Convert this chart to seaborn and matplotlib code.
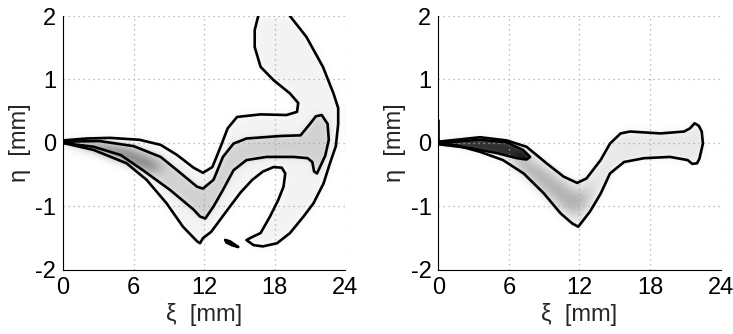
import numpy as np
import matplotlib
matplotlib.use("Agg")
import matplotlib.pyplot as plt
from matplotlib.path import Path
from matplotlib.colors import LinearSegmentedColormap
import seaborn as sns
import pandas as pd

# ---------------- data (xi [mm], eta [mm]) ----------------
# Left panel: outer contour
L_outer_xi = [0, 2, 4, 6.5, 8.3, 9.7, 11.1, 11.9, 12.7, 13.4, 14.0, 14.8, 16.8, 19.0, 19.9,
              20.0, 19.3, 17.9, 16.8, 16.3, 16.3, 16.6, 16.6, 19.3, 19.3, 20.7, 22.1, 23.0,
              23.4, 23.4, 23.2, 22.7, 22.15, 21.3, 20.45, 19.3, 18.2, 17.0, 16.2, 15.6, 16.0,
              16.8, 17.6, 18.3, 18.75, 18.9, 18.6, 17.9, 17.0, 16.1, 15.1, 14.2, 13.4, 12.6,
              11.9, 11.65, 11.4, 10.2, 8.8, 7.1, 5.4, 2.6, 0]
L_outer_eta = [0.04, 0.07, 0.08, 0.05, -0.03, -0.19, -0.39, -0.47, -0.38, -0.06, 0.23, 0.41, 0.45,
               0.44, 0.49, 0.63, 0.78, 0.99, 1.2, 1.51, 1.78, 2.0, 2.3, 2.3, 2.0, 1.67, 1.2, 0.78,
               0.55, 0.3, -0.05, -0.32, -0.64, -0.95, -1.16, -1.42, -1.58, -1.63, -1.61, -1.53,
               -1.49, -1.42, -1.16, -0.9, -0.69, -0.48, -0.39, -0.38, -0.45, -0.58, -0.78, -1.0,
               -1.2, -1.4, -1.5, -1.58, -1.55, -1.32, -0.95, -0.58, -0.32, -0.11, 0.0]
# Left panel: inner contour
L_inner_xi = [0, 3.1, 6.0, 8.3, 9.7, 11.4, 11.9, 12.8, 13.6, 14.5, 15.6, 18.5, 20.2, 21.0,
              21.5, 22.0, 22.5, 22.6, 22.3, 21.6, 21.35, 21.2, 20.8, 19.6, 17.3, 15.6, 14.5,
              13.6, 12.8, 12.1, 11.65, 11.1, 9.1, 6.8, 4.9, 2.6, 0]
L_inner_eta = [0.02, 0.03, -0.05, -0.22, -0.43, -0.69, -0.72, -0.58, -0.22, -0.01, 0.07, 0.11,
               0.12, 0.3, 0.42, 0.44, 0.3, 0.05, -0.2, -0.48, -0.45, -0.3, -0.24, -0.22, -0.22,
               -0.27, -0.43, -0.74, -1.0, -1.19, -1.16, -1.05, -0.74, -0.43, -0.19, -0.06, 0.0]
# Left panel: small island
L_island_xi = [13.8, 14.2, 14.9, 14.35, 13.9, 13.8]
L_island_eta = [-1.53, -1.55, -1.64, -1.61, -1.57, -1.53]
# Left panel: dark core of the density (no contour line)
L_core_xi = [0.3, 3, 5.5, 7.5, 8.5, 7.5, 5, 2.5, 0.3]
L_core_eta = [0.0, -0.02, -0.1, -0.25, -0.42, -0.45, -0.3, -0.12, -0.02]

# Right panel: outer contour
R_outer_xi = [0, 3.55, 5.8, 7.5, 9.2, 10.65, 11.8, 12.6, 13.8, 14.6, 15.5, 16.3, 18.9, 20.9,
              21.4, 21.8, 22.15, 22.4, 22.5, 22.2, 22.0, 21.6, 21.2, 19.7, 17.5, 15.8, 14.6,
              13.8, 12.9, 11.9, 11.4, 10.4, 8.95, 7.25, 5.5, 3.55, 1.6, 0]
R_outer_eta = [0.02, 0.09, 0.04, -0.06, -0.32, -0.53, -0.63, -0.56, -0.27, -0.01, 0.15, 0.18,
               0.15, 0.18, 0.23, 0.31, 0.27, 0.18, -0.01, -0.25, -0.32, -0.33, -0.27, -0.22,
               -0.24, -0.30, -0.48, -0.8, -1.08, -1.32, -1.27, -1.11, -0.79, -0.48, -0.27,
               -0.14, -0.04, 0.0]
# Right panel: inner (dark) contour
R_inner_xi = [0, 3.55, 5.8, 7.2, 7.8, 7.5, 6.7, 5.0, 2.7, 0]
R_inner_eta = [0.0, 0.05, 0.01, -0.11, -0.22, -0.26, -0.24, -0.16, -0.08, -0.02]
# Right panel: short vertical piece at the origin
R_stub_xi = [0, 0]
R_stub_eta = [0.0, 0.36]
# Right panel: medium-gray ridge of the density (no contour line)
R_ridge_xi = [6.5, 8.5, 10.5, 11.9, 12.7, 13.4, 12.6, 11.8, 10.5, 8.5, 6.5]
R_ridge_eta = [-0.15, -0.35, -0.62, -0.8, -0.75, -0.5, -0.95, -1.15, -1.0, -0.68, -0.32]

x_ticks = [0, 6, 12, 18, 24]
y_ticks = [-2, -1, 0, 1, 2]

# ---------------- figure ----------------
sns.set_theme(style="white")
plt.rcParams["font.family"] = ["Liberation Sans", "DejaVu Sans"]

fig = plt.figure(figsize=(7.33, 3.34), dpi=100)
axL = fig.add_axes([0.086, 0.192, 0.385, 0.760])
axR = fig.add_axes([0.598, 0.192, 0.385, 0.760])

cmap = LinearSegmentedColormap.from_list("wk", ["white", "black"])
gx = np.linspace(0, 24, 481)
gy = np.linspace(-2, 2, 241)
GX, GY = np.meshgrid(gx, gy)
pts = np.column_stack([GX.ravel(), GY.ravel()])


def inside(xs, ys):
    return Path(np.column_stack([xs, ys])).contains_points(pts).reshape(GX.shape).astype(float)


def blur(f, sx, sy):
    def kern(s):
        r = int(3 * s) + 1
        k = np.exp(-0.5 * (np.arange(-r, r + 1) / s) ** 2)
        return k / k.sum()
    kx, ky = kern(sx), kern(sy)
    f = np.apply_along_axis(lambda v: np.convolve(v, kx, mode="same"), 1, f)
    f = np.apply_along_axis(lambda v: np.convolve(v, ky, mode="same"), 0, f)
    return f


fieldL = (blur(0.05 * inside(L_outer_xi, L_outer_eta), 8, 5)
          + blur(0.13 * inside(L_inner_xi, L_inner_eta), 6, 3)
          + blur(0.30 * inside(L_core_xi, L_core_eta), 10, 4))
fieldR = (blur(0.09 * inside(R_outer_xi, R_outer_eta), 6, 4)
          + blur(0.22 * inside(R_ridge_xi, R_ridge_eta), 10, 5)
          + blur(0.72 * inside(R_inner_xi, R_inner_eta), 2, 1))

panels = [
    (axL, fieldL, [(L_outer_xi, L_outer_eta), (L_inner_xi, L_inner_eta),
                   (L_island_xi, L_island_eta)]),
    (axR, fieldR, [(R_outer_xi, R_outer_eta), (R_inner_xi, R_inner_eta),
                   (R_stub_xi, R_stub_eta)]),
]

for ax, field, lines in panels:
    ax.imshow(field, extent=[0, 24, -2, 2], origin="lower", cmap=cmap, vmin=0, vmax=1,
              aspect="auto", interpolation="bilinear", zorder=0)
    for xs, ys in lines:
        df = pd.DataFrame({"xi": xs, "eta": ys})
        sns.lineplot(data=df, x="xi", y="eta", sort=False, estimator=None, color="black",
                     linewidth=1.9, ax=ax, zorder=3)
    ax.set_xlim(0, 24)
    ax.set_ylim(-2, 2)
    ax.set_xticks(x_ticks)
    ax.set_yticks(y_ticks)
    ax.set_xticklabels([str(v) for v in x_ticks])
    ax.set_yticklabels([str(v) for v in y_ticks])
    ax.grid(True, linestyle=(0, (1, 3)), color="#aaaaaa", linewidth=0.9)
    for s in ["top", "right"]:
        ax.spines[s].set_visible(False)
    for s in ["left", "bottom"]:
        ax.spines[s].set_color("black")
        ax.spines[s].set_linewidth(0.8)
    ax.tick_params(direction="in", length=3, width=0.8, labelsize=17, pad=5, colors="black")
    ax.set_xlabel("ξ  [mm]", fontsize=17, labelpad=3)
    ax.set_ylabel("η  [mm]", fontsize=17, labelpad=3)

fig.savefig("out.png", dpi=100, facecolor="white")
